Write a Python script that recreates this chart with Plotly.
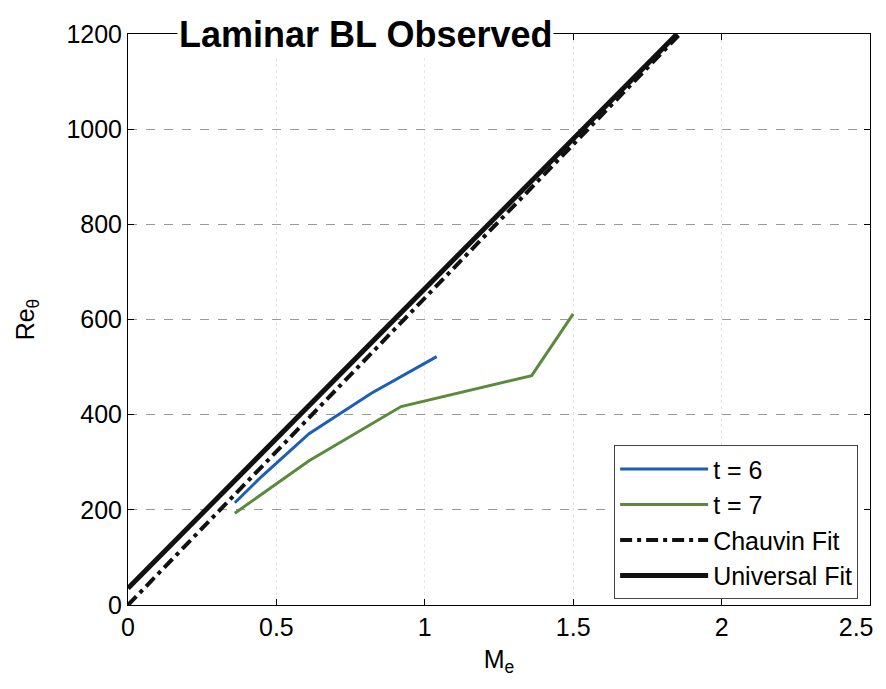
import plotly.graph_objects as go

# t = 6 and t = 7 measurements
m_t6 = [0.36, 0.45, 0.61, 0.82, 1.04]
re_t6 = [215, 270, 360, 445, 522]

m_t7 = [0.36, 0.61, 0.92, 1.36, 1.50]
re_t7 = [193, 303, 417, 482, 612]

# correlation fits
m_chauvin = [0.0, 1.86]
re_chauvin = [0, 1200]

m_universal = [0.0, 1.85]
re_universal = [35, 1200]

x_ticks = [0, 0.5, 1, 1.5, 2, 2.5]
x_labels = ["0", "0.5", "1", "1.5", "2", "2.5" + "\u00a0" * 4]  # pad last one so it stays inside the window
y_ticks = [0, 200, 400, 600, 800, 1000, 1200]

FONT = "Liberation Sans, Arial, sans-serif"

fig = go.Figure()

fig.add_trace(go.Scatter(x=m_t6, y=re_t6, mode="lines", name="t = 6",
                         line=dict(color="#1b5fb8", width=3)))
fig.add_trace(go.Scatter(x=m_t7, y=re_t7, mode="lines", name="t = 7",
                         line=dict(color="#5a8a3c", width=3)))
fig.add_trace(go.Scatter(x=m_chauvin, y=re_chauvin, mode="lines", name="Chauvin Fit",
                         line=dict(color="#111111", width=4, dash="12px,5px,4px,5px")))
fig.add_trace(go.Scatter(x=m_universal, y=re_universal, mode="lines", name="Universal Fit",
                         line=dict(color="#111111", width=5)))

axis_common = dict(
    showline=True, linecolor="black", linewidth=1, mirror="ticks",
    ticks="inside", ticklen=6, tickcolor="black",
    tickfont=dict(family=FONT, size=25, color="black"),
    zeroline=False, automargin=False,
)

fig.update_xaxes(range=[0, 2.5], tickvals=x_ticks, ticktext=x_labels,
                 ticklabeloverflow="allow",
                 showgrid=True, gridcolor="#e6e6e6", griddash="dot", gridwidth=1,
                 title=dict(text="M<sub>e</sub>", font=dict(family=FONT, size=25, color="black"),
                            standoff=10),
                 **axis_common)
fig.update_yaxes(range=[0, 1200], tickvals=y_ticks,
                 showgrid=True, gridcolor="#9a9a9a", griddash="dash", gridwidth=1,
                 title=dict(text="Re<sub>θ</sub>", font=dict(family=FONT, size=25, color="black"),
                            standoff=24),
                 **axis_common)

# title sits on the top border, with a white patch behind it
fig.add_annotation(x=0.32, y=1.0, xref="paper", yref="paper", xanchor="center", yanchor="middle",
                   text="<b>Laminar BL Observed</b>", showarrow=False, bgcolor="white",
                   font=dict(family=FONT, size=36, color="black"))

# page body adds an 8px offset, so size the figure to fit the window
fig.update_layout(
    width=878, height=681,
    margin=dict(l=120, r=16, t=26, b=84),
    paper_bgcolor="white", plot_bgcolor="white",
    showlegend=True,
    legend=dict(x=0.984, y=0.01, xanchor="right", yanchor="bottom",
                bgcolor="white", bordercolor="#444444", borderwidth=1,
                font=dict(family=FONT, size=25, color="black"),
                itemwidth=88, tracegroupgap=0),
)

fig.write_html("out.html")
